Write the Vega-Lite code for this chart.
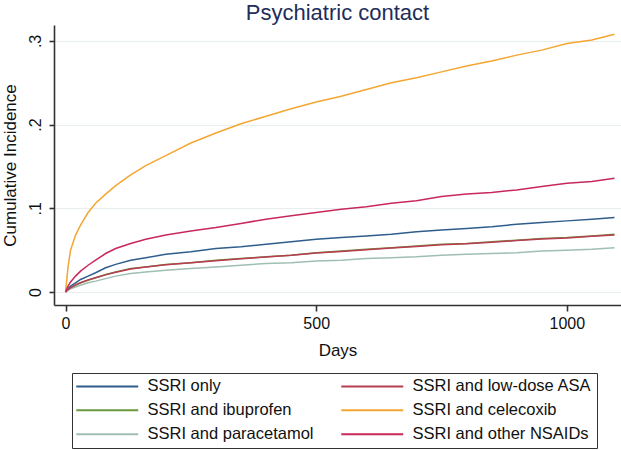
{
  "$schema": "https://vega.github.io/schema/vega-lite/v6.json",
  "width": 567,
  "height": 280,
  "autosize": {"type": "none"},
  "padding": {"left": 54, "top": 25, "right": 0, "bottom": 145},
  "background": "white",
  "config": {
    "font": "Liberation Sans",
    "view": {"stroke": null},
    "axis": {"labelFont": "Liberation Sans", "titleFont": "Liberation Sans", "labelColor": "#111", "titleColor": "#111", "titleFontWeight": "normal", "domainColor": "#333", "tickColor": "#333", "domainWidth": 1.6, "tickWidth": 1.6}
  },
  "title": {"text": "Psychiatric contact", "fontSize": 22, "font": "Liberation Sans", "fontWeight": "normal", "color": "#1e2d5a", "anchor": "middle", "baseline": "alphabetic", "offset": 4, "dy": 21},
  "data": {"values": [
    {"d":0,"g":"SSRI only","v":0},{"d":5,"g":"SSRI only","v":0.004},{"d":10,"g":"SSRI only","v":0.007},{"d":20,"g":"SSRI only","v":0.011},{"d":30,"g":"SSRI only","v":0.015},{"d":45,"g":"SSRI only","v":0.019},{"d":60,"g":"SSRI only","v":0.023},{"d":80,"g":"SSRI only","v":0.029},{"d":100,"g":"SSRI only","v":0.033},{"d":130,"g":"SSRI only","v":0.038},{"d":160,"g":"SSRI only","v":0.041},{"d":200,"g":"SSRI only","v":0.045},{"d":250,"g":"SSRI only","v":0.048},{"d":300,"g":"SSRI only","v":0.052},{"d":350,"g":"SSRI only","v":0.054},{"d":400,"g":"SSRI only","v":0.057},{"d":450,"g":"SSRI only","v":0.06},{"d":500,"g":"SSRI only","v":0.063},{"d":550,"g":"SSRI only","v":0.065},{"d":600,"g":"SSRI only","v":0.067},{"d":650,"g":"SSRI only","v":0.069},{"d":700,"g":"SSRI only","v":0.072},{"d":750,"g":"SSRI only","v":0.074},{"d":800,"g":"SSRI only","v":0.076},{"d":850,"g":"SSRI only","v":0.078},{"d":900,"g":"SSRI only","v":0.081},{"d":950,"g":"SSRI only","v":0.083},{"d":1000,"g":"SSRI only","v":0.085},{"d":1050,"g":"SSRI only","v":0.087},{"d":1095,"g":"SSRI only","v":0.089},
    {"d":0,"g":"SSRI and ibuprofen","v":0},{"d":5,"g":"SSRI and ibuprofen","v":0.003},{"d":10,"g":"SSRI and ibuprofen","v":0.005},{"d":20,"g":"SSRI and ibuprofen","v":0.008},{"d":30,"g":"SSRI and ibuprofen","v":0.011},{"d":45,"g":"SSRI and ibuprofen","v":0.014},{"d":60,"g":"SSRI and ibuprofen","v":0.017},{"d":80,"g":"SSRI and ibuprofen","v":0.021},{"d":100,"g":"SSRI and ibuprofen","v":0.024},{"d":130,"g":"SSRI and ibuprofen","v":0.028},{"d":160,"g":"SSRI and ibuprofen","v":0.03},{"d":200,"g":"SSRI and ibuprofen","v":0.033},{"d":250,"g":"SSRI and ibuprofen","v":0.035},{"d":300,"g":"SSRI and ibuprofen","v":0.038},{"d":350,"g":"SSRI and ibuprofen","v":0.04},{"d":400,"g":"SSRI and ibuprofen","v":0.042},{"d":450,"g":"SSRI and ibuprofen","v":0.044},{"d":500,"g":"SSRI and ibuprofen","v":0.047},{"d":550,"g":"SSRI and ibuprofen","v":0.049},{"d":600,"g":"SSRI and ibuprofen","v":0.051},{"d":650,"g":"SSRI and ibuprofen","v":0.053},{"d":700,"g":"SSRI and ibuprofen","v":0.055},{"d":750,"g":"SSRI and ibuprofen","v":0.057},{"d":800,"g":"SSRI and ibuprofen","v":0.058},{"d":850,"g":"SSRI and ibuprofen","v":0.06},{"d":900,"g":"SSRI and ibuprofen","v":0.062},{"d":950,"g":"SSRI and ibuprofen","v":0.064},{"d":1000,"g":"SSRI and ibuprofen","v":0.065},{"d":1050,"g":"SSRI and ibuprofen","v":0.067},{"d":1095,"g":"SSRI and ibuprofen","v":0.069},
    {"d":0,"g":"SSRI and paracetamol","v":0},{"d":5,"g":"SSRI and paracetamol","v":0.002},{"d":10,"g":"SSRI and paracetamol","v":0.004},{"d":20,"g":"SSRI and paracetamol","v":0.006},{"d":30,"g":"SSRI and paracetamol","v":0.008},{"d":45,"g":"SSRI and paracetamol","v":0.011},{"d":60,"g":"SSRI and paracetamol","v":0.013},{"d":80,"g":"SSRI and paracetamol","v":0.016},{"d":100,"g":"SSRI and paracetamol","v":0.019},{"d":130,"g":"SSRI and paracetamol","v":0.022},{"d":160,"g":"SSRI and paracetamol","v":0.024},{"d":200,"g":"SSRI and paracetamol","v":0.026},{"d":250,"g":"SSRI and paracetamol","v":0.028},{"d":300,"g":"SSRI and paracetamol","v":0.03},{"d":350,"g":"SSRI and paracetamol","v":0.032},{"d":400,"g":"SSRI and paracetamol","v":0.034},{"d":450,"g":"SSRI and paracetamol","v":0.035},{"d":500,"g":"SSRI and paracetamol","v":0.037},{"d":550,"g":"SSRI and paracetamol","v":0.038},{"d":600,"g":"SSRI and paracetamol","v":0.04},{"d":650,"g":"SSRI and paracetamol","v":0.041},{"d":700,"g":"SSRI and paracetamol","v":0.042},{"d":750,"g":"SSRI and paracetamol","v":0.044},{"d":800,"g":"SSRI and paracetamol","v":0.045},{"d":850,"g":"SSRI and paracetamol","v":0.046},{"d":900,"g":"SSRI and paracetamol","v":0.047},{"d":950,"g":"SSRI and paracetamol","v":0.049},{"d":1000,"g":"SSRI and paracetamol","v":0.05},{"d":1050,"g":"SSRI and paracetamol","v":0.051},{"d":1095,"g":"SSRI and paracetamol","v":0.053},
    {"d":0,"g":"SSRI and low-dose ASA","v":0},{"d":5,"g":"SSRI and low-dose ASA","v":0.003},{"d":10,"g":"SSRI and low-dose ASA","v":0.005},{"d":20,"g":"SSRI and low-dose ASA","v":0.0085},{"d":30,"g":"SSRI and low-dose ASA","v":0.011},{"d":45,"g":"SSRI and low-dose ASA","v":0.0145},{"d":60,"g":"SSRI and low-dose ASA","v":0.017},{"d":80,"g":"SSRI and low-dose ASA","v":0.0205},{"d":100,"g":"SSRI and low-dose ASA","v":0.0235},{"d":130,"g":"SSRI and low-dose ASA","v":0.0275},{"d":160,"g":"SSRI and low-dose ASA","v":0.03},{"d":200,"g":"SSRI and low-dose ASA","v":0.0325},{"d":250,"g":"SSRI and low-dose ASA","v":0.035},{"d":300,"g":"SSRI and low-dose ASA","v":0.0375},{"d":350,"g":"SSRI and low-dose ASA","v":0.0398},{"d":400,"g":"SSRI and low-dose ASA","v":0.0418},{"d":450,"g":"SSRI and low-dose ASA","v":0.0438},{"d":500,"g":"SSRI and low-dose ASA","v":0.0465},{"d":550,"g":"SSRI and low-dose ASA","v":0.0485},{"d":600,"g":"SSRI and low-dose ASA","v":0.0505},{"d":650,"g":"SSRI and low-dose ASA","v":0.0525},{"d":700,"g":"SSRI and low-dose ASA","v":0.0545},{"d":750,"g":"SSRI and low-dose ASA","v":0.0565},{"d":800,"g":"SSRI and low-dose ASA","v":0.0578},{"d":850,"g":"SSRI and low-dose ASA","v":0.0595},{"d":900,"g":"SSRI and low-dose ASA","v":0.0615},{"d":950,"g":"SSRI and low-dose ASA","v":0.0633},{"d":1000,"g":"SSRI and low-dose ASA","v":0.0645},{"d":1050,"g":"SSRI and low-dose ASA","v":0.0665},{"d":1095,"g":"SSRI and low-dose ASA","v":0.068},
    {"d":0,"g":"SSRI and celecoxib","v":0},{"d":5,"g":"SSRI and celecoxib","v":0.03},{"d":10,"g":"SSRI and celecoxib","v":0.05},{"d":20,"g":"SSRI and celecoxib","v":0.068},{"d":30,"g":"SSRI and celecoxib","v":0.08},{"d":45,"g":"SSRI and celecoxib","v":0.095},{"d":60,"g":"SSRI and celecoxib","v":0.106},{"d":80,"g":"SSRI and celecoxib","v":0.117},{"d":100,"g":"SSRI and celecoxib","v":0.127},{"d":130,"g":"SSRI and celecoxib","v":0.14},{"d":160,"g":"SSRI and celecoxib","v":0.151},{"d":200,"g":"SSRI and celecoxib","v":0.163},{"d":250,"g":"SSRI and celecoxib","v":0.178},{"d":300,"g":"SSRI and celecoxib","v":0.19},{"d":350,"g":"SSRI and celecoxib","v":0.201},{"d":400,"g":"SSRI and celecoxib","v":0.21},{"d":450,"g":"SSRI and celecoxib","v":0.219},{"d":500,"g":"SSRI and celecoxib","v":0.227},{"d":550,"g":"SSRI and celecoxib","v":0.234},{"d":600,"g":"SSRI and celecoxib","v":0.242},{"d":650,"g":"SSRI and celecoxib","v":0.25},{"d":700,"g":"SSRI and celecoxib","v":0.256},{"d":750,"g":"SSRI and celecoxib","v":0.263},{"d":800,"g":"SSRI and celecoxib","v":0.27},{"d":850,"g":"SSRI and celecoxib","v":0.276},{"d":900,"g":"SSRI and celecoxib","v":0.283},{"d":950,"g":"SSRI and celecoxib","v":0.289},{"d":1000,"g":"SSRI and celecoxib","v":0.297},{"d":1050,"g":"SSRI and celecoxib","v":0.301},{"d":1095,"g":"SSRI and celecoxib","v":0.308},
    {"d":0,"g":"SSRI and other NSAIDs","v":0},{"d":5,"g":"SSRI and other NSAIDs","v":0.007},{"d":10,"g":"SSRI and other NSAIDs","v":0.012},{"d":20,"g":"SSRI and other NSAIDs","v":0.019},{"d":30,"g":"SSRI and other NSAIDs","v":0.025},{"d":45,"g":"SSRI and other NSAIDs","v":0.032},{"d":60,"g":"SSRI and other NSAIDs","v":0.038},{"d":80,"g":"SSRI and other NSAIDs","v":0.046},{"d":100,"g":"SSRI and other NSAIDs","v":0.052},{"d":130,"g":"SSRI and other NSAIDs","v":0.058},{"d":160,"g":"SSRI and other NSAIDs","v":0.063},{"d":200,"g":"SSRI and other NSAIDs","v":0.068},{"d":250,"g":"SSRI and other NSAIDs","v":0.073},{"d":300,"g":"SSRI and other NSAIDs","v":0.077},{"d":350,"g":"SSRI and other NSAIDs","v":0.082},{"d":400,"g":"SSRI and other NSAIDs","v":0.087},{"d":450,"g":"SSRI and other NSAIDs","v":0.091},{"d":500,"g":"SSRI and other NSAIDs","v":0.095},{"d":550,"g":"SSRI and other NSAIDs","v":0.099},{"d":600,"g":"SSRI and other NSAIDs","v":0.102},{"d":650,"g":"SSRI and other NSAIDs","v":0.106},{"d":700,"g":"SSRI and other NSAIDs","v":0.109},{"d":750,"g":"SSRI and other NSAIDs","v":0.114},{"d":800,"g":"SSRI and other NSAIDs","v":0.117},{"d":850,"g":"SSRI and other NSAIDs","v":0.119},{"d":900,"g":"SSRI and other NSAIDs","v":0.122},{"d":950,"g":"SSRI and other NSAIDs","v":0.126},{"d":1000,"g":"SSRI and other NSAIDs","v":0.13},{"d":1050,"g":"SSRI and other NSAIDs","v":0.132},{"d":1095,"g":"SSRI and other NSAIDs","v":0.136}
  ]},
  "mark": {"type": "line", "strokeWidth": 1.5},
  "encoding": {
    "x": {"field": "d", "type": "quantitative", "title": "Days",
      "scale": {"domain": [-23, 1108], "nice": false, "zero": false},
      "axis": {"values": [0, 500, 1000], "format": "d", "grid": false, "tickSize": 6, "labelFontSize": 16, "titleFontSize": 17, "labelPadding": 4, "titlePadding": 11, "labelFlush": false}},
    "y": {"field": "v", "type": "quantitative", "title": "Cumulative Incidence",
      "scale": {"domain": [-0.0155, 0.319], "nice": false, "zero": false},
      "axis": {"values": [0, 0.1, 0.2, 0.3], "grid": true, "gridColor": "#e6eef0", "gridWidth": 1, "tickSize": 5, "labelAngle": -90, "labelAlign": "center", "labelBaseline": "bottom", "labelPadding": 6, "labelFontSize": 16, "titleFontSize": 17, "titlePadding": 8, "labelFlush": false,
        "labelExpr": "datum.value == 0 ? '0' : replace(format(datum.value, '.1f'), '0.', '.')"}},
    "color": {"field": "g", "type": "nominal",
      "scale": {"domain": ["SSRI only", "SSRI and ibuprofen", "SSRI and paracetamol", "SSRI and low-dose ASA", "SSRI and celecoxib", "SSRI and other NSAIDs"],
                "range": ["#2f5d8c", "#6b9a3c", "#9fbfb2", "#b83c52", "#f4a632", "#c8285a"]},
      "legend": {"orient": "none", "legendX": 18, "legendY": 348, "direction": "vertical", "columns": 2, "title": null,
        "symbolType": "M-10,0H10", "symbolSize": 38.4, "symbolStrokeWidth": 2, "symbolOffset": 22, "labelFontSize": 16.5, "labelFont": "Liberation Sans", "labelColor": "#111", "labelOffset": 32,
        "strokeColor": "#333", "padding": 5, "columnPadding": 10, "rowPadding": 7, "gridAlign": "all", "labelLimit": 300}}
  }
}
